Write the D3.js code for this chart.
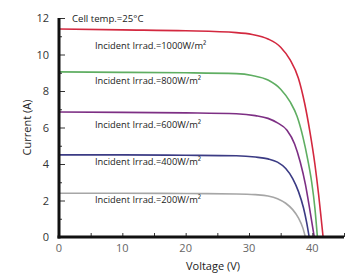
<!doctype html>
<html lang="en">
  <head>
    <meta charset="utf-8">
    <title>I-V curves</title>
    <script src="https://d3js.org/d3.v7.min.js"></script>
    <style>
      body { margin: 0; background: #fff; }
      text { font-family: "Open Sans", sans-serif; }
    </style>
  </head>
  <body>
    <svg width="351" height="273"></svg>
    <script>
      // readings: [voltage, current]
      var irr1000 = [[0,11.4],[10,11.35],[20,11.3],[28,11.2],[30.5,11.1],[33,10.85],[35,10.4],[36.5,9.7],[37.8,8.7],[38.8,7.3],[39.6,5.8],[40.4,4.0],[41,2.3],[41.4,1.0],[41.7,0]];
      var irr800 = [[0,9.05],[10,9.02],[20,9.0],[28,8.95],[30.5,8.85],[33,8.6],[35,8.1],[36.5,7.4],[37.6,6.6],[38.5,5.5],[39.3,4.2],[39.9,3.0],[40.4,1.6],[40.8,0]];
      var irr600 = [[0,6.85],[10,6.83],[20,6.8],[28,6.75],[31,6.65],[33,6.5],[34.5,6.25],[36,5.85],[37.2,5.1],[38.1,4.1],[38.9,2.9],[39.6,1.5],[40.3,0]];
      var irr400 = [[0,4.5],[10,4.5],[20,4.48],[28,4.45],[31,4.38],[33,4.28],[34.5,4.1],[35.8,3.75],[36.9,3.2],[37.8,2.5],[38.6,1.6],[39.1,0.8],[39.5,0]];
      var irr200 = [[0,2.4],[10,2.4],[20,2.38],[28,2.36],[31,2.32],[33,2.25],[34.5,2.1],[35.8,1.85],[36.9,1.5],[37.8,1.05],[38.5,0.5],[38.9,0]];

      var seriesNames = ["1000", "800", "600", "400", "200"];
      var seriesColors = ["#d3283f", "#5fae62", "#7d2f84", "#3b3b84", "#a6a6a6"];
      var labelCurrent = [10.3, 8.4, 6.0, 3.95, 1.85];
      var xTicks = [0, 10, 20, 30, 40];
      var yTicks = [0, 2, 4, 6, 8, 10, 12];

      var svg = d3.select('svg');
      var x = d3.scaleLinear().domain([0, 45]).range([59, 344]);
      var y = d3.scaleLinear().domain([0, 12]).range([237, 18]);

      var all = [irr1000, irr800, irr600, irr400, irr200];

      var line = d3.line()
        .x(function(d){ return x(d[0]); })
        .y(function(d){ return y(d[1]); })
        .curve(d3.curveMonotoneX);

      // curves (drawn bottom-up so red is on top)
      svg.selectAll('path.curve').data(all.slice().reverse())
        .enter().append('path')
          .attr('class', 'curve')
          .attr('d', line)
          .attr('fill', 'none')
          .attr('stroke', function(d, i){ return seriesColors[4 - i]; })
          .attr('stroke-width', 1.6);

      // axes
      var xAxis = d3.axisBottom(x).tickValues(d3.range(0, 46, 5)).tickSize(-4).tickFormat('');
      var yAxis = d3.axisLeft(y).tickValues(d3.range(0, 13, 1)).tickSize(-3).tickFormat('');

      var gx = svg.append('g').attr('transform', 'translate(0,' + y(0) + ')').call(xAxis);
      var gy = svg.append('g').attr('transform', 'translate(' + x(0) + ',0)').call(yAxis);
      gx.select('.domain').remove();
      gy.select('.domain').remove();
      gx.selectAll('line').attr('stroke', '#333');
      gy.selectAll('line').attr('stroke', '#333');
      gy.selectAll('.tick').filter(function(d){ return d % 2 === 0; })
        .select('line').attr('x2', 6);

      svg.append('line').attr('x1', x(0)).attr('x2', x(0)).attr('y1', y(12)).attr('y2', y(0) + 1.5)
        .attr('stroke', '#111').attr('stroke-width', 3);
      svg.append('line').attr('x1', x(0) - 1.5).attr('x2', x(45)).attr('y1', y(0)).attr('y2', y(0))
        .attr('stroke', '#111').attr('stroke-width', 3);

      // tick labels
      svg.selectAll('text.xt').data(xTicks).enter().append('text')
        .attr('x', function(d){ return x(d); }).attr('y', 252)
        .attr('text-anchor', 'middle').attr('font-size', 11).attr('fill', '#666')
        .text(function(d){ return d; });
      svg.selectAll('text.yt').data(yTicks).enter().append('text')
        .attr('x', 49).attr('y', function(d){ return y(d) + 4; })
        .attr('text-anchor', 'end').attr('font-size', 11).attr('fill', '#333')
        .text(function(d){ return d; });

      // axis titles
      svg.append('text').attr('x', 213).attr('y', 270).attr('text-anchor', 'middle')
        .attr('font-size', 11).attr('fill', '#222').text('Voltage (V)');
      svg.append('text').attr('transform', 'translate(31,' + y(6) + ') rotate(-90)')
        .attr('text-anchor', 'middle').attr('font-size', 11).attr('fill', '#222').text('Current (A)');

      // annotations
      svg.append('text').attr('x', 72).attr('y', 22).attr('font-size', 9.6).attr('fill', '#222')
        .text('Cell temp.=25°C');
      svg.selectAll('text.lab').data(seriesNames).enter().append('text')
        .attr('x', 95).attr('y', function(d, i){ return y(labelCurrent[i]); })
        .attr('font-size', 9.3).attr('fill', '#222')
        .text(function(d){ return 'Incident Irrad.=' + d + 'W/m²'; });
    </script>
  </body>
</html>
